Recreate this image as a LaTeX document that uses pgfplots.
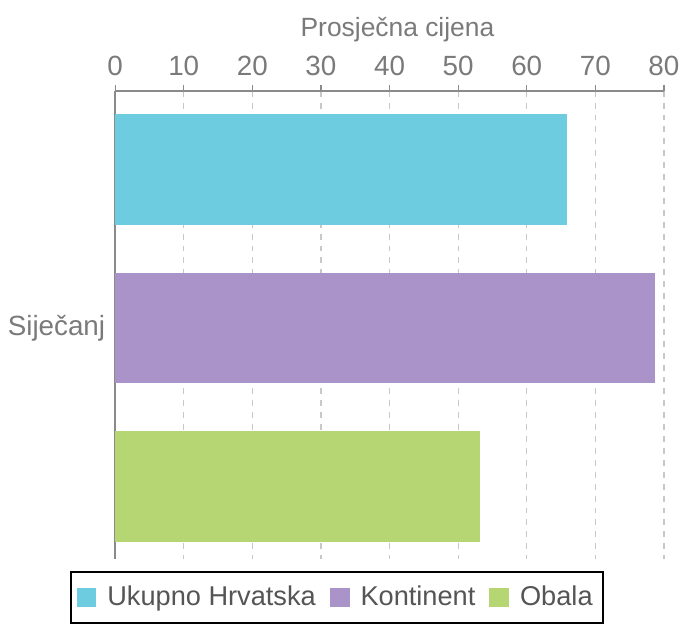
\documentclass[border=0pt]{standalone}
\usepackage{pgfplots}
\pgfplotsset{compat=1.18}
\usepackage{fontspec}
\setmainfont{Liberation Sans}
\definecolor{cBlue}{HTML}{6ECCE0}
\definecolor{cPurple}{HTML}{A993C9}
\definecolor{cGreen}{HTML}{B6D674}
\definecolor{txt}{HTML}{7A7A7A}
\definecolor{ltxt}{HTML}{555555}
\definecolor{axc}{HTML}{8A8A8A}
\definecolor{grd}{HTML}{C8C8C8}
\begin{document}
\begin{tikzpicture}
\begin{axis}[
  scale only axis,
  width=276.5pt, height=236pt,
  xbar, bar shift=0pt, bar width=0.70,
  xmin=0, xmax=80,
  ymin=-0.5, ymax=2.46,
  y dir=reverse,
  axis x line*=top, axis y line*=left,
  axis line style={axc, line width=0.8pt},
  xtick={0,10,...,80},
  ytick={1}, yticklabels={Siječanj},
  ytick style={draw=none},
  xtick style={axc, line width=0.6pt},
  major tick length=3pt,
  tick align=outside,
  xmajorgrids,
  major grid style={grd, dashed, line width=0.6pt},
  /pgf/number format/assume math mode=true,
  tick label style={font=\fontsize{14pt}{16pt}\selectfont, text=txt},
  xticklabel style={yshift=1pt},
  yticklabel style={xshift=1.5pt},
  xlabel={Prosječna cijena},
  xlabel style={font=\fontsize{13.3pt}{15pt}\selectfont, text=txt, xshift=4pt},
  legend columns=3,
  legend style={at={(-0.083,-0.026)}, anchor=north west, draw=black, line width=1pt,
    font=\fontsize{13.7pt}{16pt}\selectfont, text=ltxt,
    /tikz/every odd column/.append style={column sep=3.5pt},
    /tikz/every even column/.append style={column sep=5pt},
    inner xsep=3pt, inner ysep=5pt},
  legend image code/.code={\fill[#1, draw=none] (0pt,-5pt) rectangle (10pt,5pt);},
]
\addplot[fill=cBlue, draw=none] coordinates {(65.9,0)};
\addplot[fill=cPurple, draw=none] coordinates {(78.75,1)};
\addplot[fill=cGreen, draw=none] coordinates {(53.2,2)};
\legend{Ukupno Hrvatska, Kontinent, Obala}
\end{axis}
\path[use as bounding box] (current axis.south west) ++(-58pt,-29.8pt) rectangle ++(343pt,311.5pt);
\end{tikzpicture}
\end{document}
